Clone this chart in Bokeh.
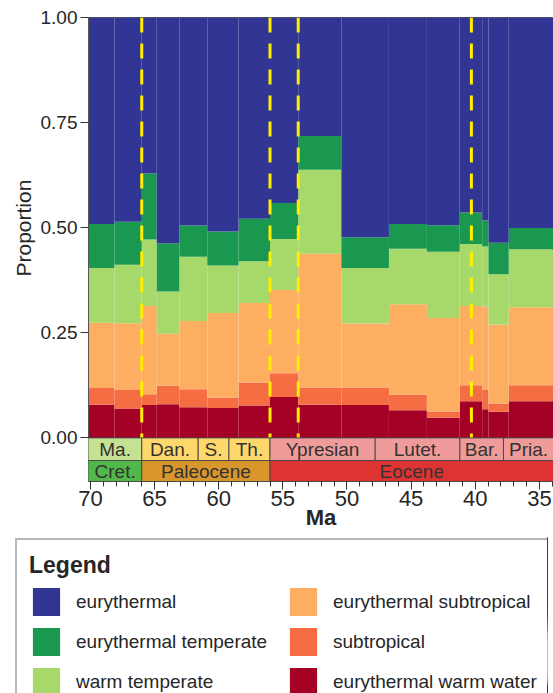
import numpy as np
from bokeh.plotting import figure
from bokeh.layouts import column
from bokeh.models import (Range1d, FixedTicker, ColumnDataSource, Legend, LegendItem,
                          NumeralTickFormatter, Title)
from bokeh.embed import file_html
from bokeh.resources import INLINE
from bokeh.core.properties import value

# ---------------- data ----------------
bin_edges = [70.2, 68.13, 66.0, 64.83, 63.07, 60.89, 58.45, 56.0, 53.8, 50.44,
             46.73, 43.77, 41.21, 39.46, 38.97, 37.39, 33.9]

eurythermal = [0.491, 0.486, 0.371, 0.537, 0.495, 0.509, 0.479, 0.441, 0.282, 0.523,
               0.491, 0.494, 0.464, 0.483, 0.536, 0.501]
eurythermal_temperate = [0.105, 0.102, 0.157, 0.115, 0.074, 0.081, 0.101, 0.086, 0.080,
                         0.073, 0.059, 0.063, 0.075, 0.062, 0.075, 0.050]
warm_temperate = [0.130, 0.139, 0.158, 0.100, 0.153, 0.113, 0.099, 0.121, 0.200, 0.132,
                  0.132, 0.158, 0.147, 0.143, 0.119, 0.138]
eurythermal_subtropical = [0.155, 0.159, 0.210, 0.124, 0.162, 0.201, 0.189, 0.198, 0.318,
                           0.152, 0.215, 0.222, 0.189, 0.198, 0.188, 0.186]
subtropical = [0.040, 0.044, 0.026, 0.044, 0.043, 0.025, 0.055, 0.057, 0.041, 0.042,
               0.037, 0.015, 0.038, 0.046, 0.020, 0.038]
eurythermal_warm_water = [0.079, 0.070, 0.078, 0.080, 0.073, 0.071, 0.077, 0.097, 0.079,
                          0.078, 0.066, 0.048, 0.087, 0.068, 0.062, 0.087]

series_names = ["eurythermal warm water", "subtropical", "eurythermal subtropical",
                "warm temperate", "eurythermal temperate", "eurythermal"]
series_colors = ["#a50026", "#f46d43", "#fdae61", "#a6d96a", "#1a9850", "#313695"]

event_ages = [66.0, 56.0, 53.8, 40.3]

stage_names = ["Ma.", "Dan.", "S.", "Th.", "Ypresian", "Lutet.", "Bar.", "Pria."]
stage_bounds = [72.1, 66.0, 61.6, 59.2, 56.0, 47.8, 41.2, 37.8, 33.9]
stage_colors = ["#c4e291", "#fed86b", "#fed86b", "#fed86b", "#ef9b99", "#ef9b99",
                "#ef9b99", "#ef9b99"]

epoch_names = ["Cret.", "Paleocene", "Eocene"]
epoch_bounds = [72.1, 66.0, 56.0, 33.9]
epoch_colors = ["#52b84a", "#d9962c", "#dd3333"]

x_ticks = [70, 65, 60, 55, 50, 45, 40, 35]
y_ticks = [0.0, 0.25, 0.5, 0.75, 1.0]

legend_order = ["eurythermal", "eurythermal temperate", "warm temperate",
                "eurythermal subtropical", "subtropical", "eurythermal warm water"]

# ---------------- main figure ----------------
X0, X1 = 70.15, 33.9
FONT = "Liberation Sans"
TXT = "#262626"

p = figure(width=553, height=537, output_backend="svg", toolbar_location=None,
           x_range=Range1d(X0, X1), y_range=Range1d(-0.1037, 1.0),
           min_border_left=88, min_border_right=0, min_border_top=17,
           min_border_bottom=56)
p.xgrid.visible = False
p.ygrid.visible = False
p.outline_line_color = "#555555"
p.outline_line_width = 1
p.background_fill_color = "white"
p.border_fill_color = "white"

edges = np.array(bin_edges)
data = {
    "mid": (edges[:-1] + edges[1:]) / 2.0,
    "w": np.abs(edges[:-1] - edges[1:]),
}
cols = [eurythermal_warm_water, subtropical, eurythermal_subtropical,
        warm_temperate, eurythermal_temperate, eurythermal]
for name, vals in zip(series_names, cols):
    data[name] = vals
src = ColumnDataSource(data)

p.vbar_stack(series_names, x="mid", width="w", source=src,
             color=series_colors, line_color=None)

# event lines
p.segment(x0=event_ages, y0=[1.0] * len(event_ages), x1=event_ages,
          y1=[0.0] * len(event_ages), line_color="#ffee00", line_width=3,
          line_dash="15 11")

# time scale
ST_TOP, ST_BOT, EP_BOT = 0.0, -0.0538, -0.1037
sl = np.array(stage_bounds[:-1]); sr = np.array(stage_bounds[1:])
p.quad(left=sl, right=sr, top=ST_TOP, bottom=ST_BOT, fill_color=stage_colors,
       line_color="#4a4a4a", line_width=1)
el = np.array(epoch_bounds[:-1]); er = np.array(epoch_bounds[1:])
p.quad(left=el, right=er, top=ST_BOT, bottom=EP_BOT, fill_color=epoch_colors,
       line_color="#4a4a4a", line_width=1)

s_mid = (np.minimum(sl, X0) + np.maximum(sr, X1)) / 2.0
p.text(x=s_mid, y=[(ST_TOP + ST_BOT) / 2] * len(stage_names), text=stage_names,
       text_font=value(FONT), text_font_size="19px", text_color="#333333",
       text_align="center", text_baseline="middle")
e_mid = (np.minimum(el, X0) + np.maximum(er, X1)) / 2.0
p.text(x=e_mid, y=[(ST_BOT + EP_BOT) / 2] * len(epoch_names), text=epoch_names,
       text_font=value(FONT), text_font_size="19px", text_color="#333333",
       text_align="center", text_baseline="middle")

# axes
xa = p.xaxis[0]
xa.ticker = FixedTicker(ticks=x_ticks, minor_ticks=list(range(34, 71)))
xa.major_tick_out = 8
xa.major_tick_in = 0
xa.minor_tick_out = 5
xa.minor_tick_in = 0
xa.major_tick_line_color = "#333333"
xa.minor_tick_line_color = "#333333"
xa.axis_line_color = "#4a4a4a"
xa.major_label_text_font = FONT
xa.major_label_text_font_size = "22px"
xa.major_label_text_color = TXT
xa.major_label_standoff = 1
xa.axis_label = "Ma"
xa.axis_label_text_font = FONT
xa.axis_label_text_font_size = "22px"
xa.axis_label_text_font_style = "bold"
xa.axis_label_text_color = TXT
xa.axis_label_standoff = -4

ya = p.yaxis[0]
ya.ticker = FixedTicker(ticks=y_ticks)
ya.formatter = NumeralTickFormatter(format="0.00")
ya.bounds = (0, 1)
ya.major_tick_out = 8
ya.major_tick_in = 0
ya.minor_tick_out = 0
ya.minor_tick_in = 0
ya.major_tick_line_color = "#333333"
ya.axis_line_color = "#555555"
ya.major_label_text_font = FONT
ya.major_label_text_font_size = "19px"
ya.major_label_text_color = TXT
ya.major_label_standoff = 3

# y title centred on the 0-1 part of the axis
ytitle = Title(text="Proportion", align="left", offset=205, standoff=6,
               text_font=FONT, text_font_size="21px", text_font_style="normal",
               text_color=TXT)
p.add_layout(ytitle, "left")

# ---------------- legend panel ----------------
lg = figure(width=553, height=156, output_backend="svg", toolbar_location=None,
            x_range=Range1d(0, 1), y_range=Range1d(0, 1),
            x_axis_location=None, y_axis_location=None,
            min_border_left=14, min_border_right=6, min_border_top=0,
            min_border_bottom=0)
lg.xgrid.visible = False
lg.ygrid.visible = False
lg.outline_line_color = None
lg.background_fill_color = "white"
lg.border_fill_color = "white"
for fig in (p, lg):
    try:
        fig.frame_align = False
    except Exception:
        pass

# swatch renderers share the same data (outside this panel's visible range)
lrs = lg.vbar_stack(series_names, x="mid", width="w", source=src,
                    color=series_colors, line_color=None)
lmap = dict(zip(series_names, lrs))
items = [LegendItem(label=n, renderers=[lmap[n]]) for n in legend_order]
legend = Legend(items=items, location="top_left", orientation="vertical", ncols=2,
                title="Legend", title_text_font=FONT, title_text_font_size="23px",
                title_text_font_style="bold", title_text_color=TXT, title_standoff=5,
                label_text_font=FONT, label_text_font_size="19px", label_text_color=TXT,
                label_standoff=13, glyph_width=34, glyph_height=35, spacing=5,
                padding=12, margin=1, label_width=205, label_height=20,
                border_line_color="#707070", border_line_width=2,
                background_fill_color="white", background_fill_alpha=1.0)
lg.add_layout(legend)

layout = column(p, lg, spacing=0)
open("out.html", "w").write(file_html(layout, INLINE))
